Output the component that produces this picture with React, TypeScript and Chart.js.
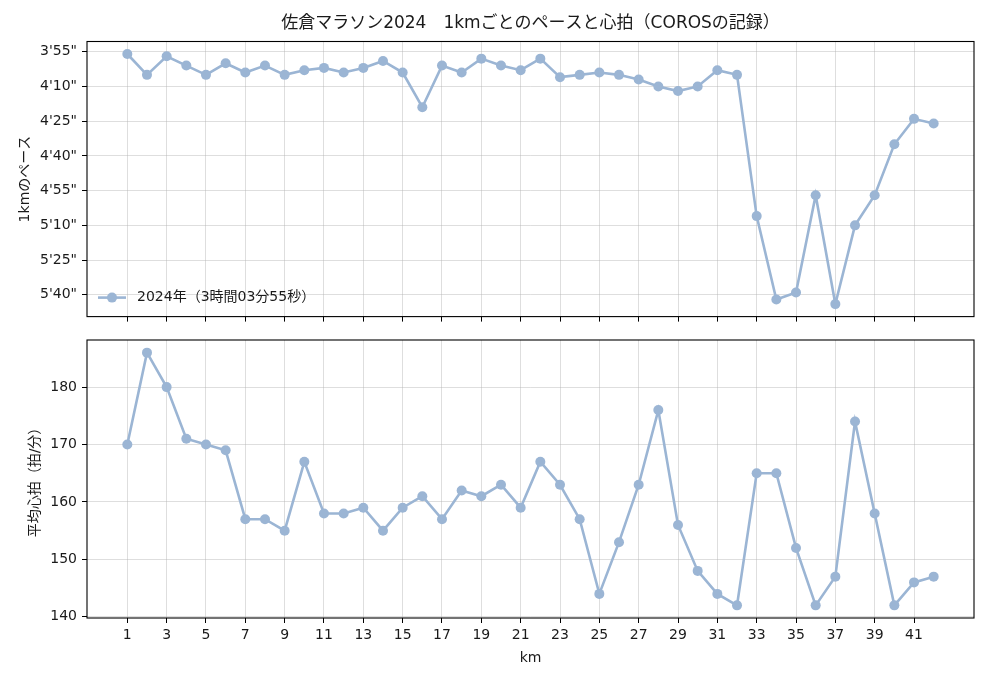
import { useEffect, useRef } from 'react';
import Chart from 'chart.js/auto';

// 1kmごとのデータ（COROSの記録から読み取り）
const kms = [
  1, 2, 3, 4, 5, 6, 7, 8, 9, 10, 11, 12, 13, 14, 15, 16, 17, 18, 19, 20, 21,
  22, 23, 24, 25, 26, 27, 28, 29, 30, 31, 32, 33, 34, 35, 36, 37, 38, 39, 40, 41, 42,
];
// ペース（秒/km）
const paceSec = [
  236, 245, 237, 241, 245, 240, 244, 241, 245, 243, 242, 244, 242, 239, 244, 259, 241, 244, 238, 241, 243,
  238, 246, 245, 244, 245, 247, 250, 252, 250, 243, 245, 306, 342, 339, 297, 344, 310, 297, 275, 264, 266,
];
// 平均心拍（拍/分）
const heartRate = [
  170, 186, 180, 171, 170, 169, 157, 157, 155, 167, 158, 158, 159, 155, 159, 161, 157, 162, 161, 163, 159,
  167, 163, 157, 144, 153, 163, 176, 156, 148, 144, 142, 165, 165, 152, 142, 147, 174, 158, 142, 146, 147,
];
const kmTicks = [1, 3, 5, 7, 9, 11, 13, 15, 17, 19, 21, 23, 25, 27, 29, 31, 33, 35, 37, 39, 41];
const paceTicks = [235, 250, 265, 280, 295, 310, 325, 340];
const hrTicks = [140, 150, 160, 170, 180];

const titleText = '佐倉マラソン2024　1kmごとのペースと心拍（COROSの記録）';
const legendLabel = '2024年（3時間03分55秒）';

const FONT = "'DejaVu Sans', 'Noto Sans CJK JP', sans-serif";
const LINE = '#9bb5d4';
const GRID = 'rgba(176,176,176,0.42)';
const TEXT = '#1a1a1a';

const fmtPace = (s: number) => `${Math.floor(s / 60)}'${String(Math.round(s % 60)).padStart(2, '0')}"`;

const framePlugin = {
  id: 'frame',
  afterDatasetsDraw(chart: any) {
    const { ctx, chartArea: a } = chart;
    ctx.save();
    ctx.strokeStyle = '#000';
    ctx.lineWidth = 1.1;
    ctx.strokeRect(a.left, a.top, a.right - a.left, a.bottom - a.top);
    ctx.restore();
  },
};

const titlePlugin = {
  id: 'figTitle',
  afterDraw(chart: any) {
    const { ctx, chartArea: a } = chart;
    ctx.save();
    ctx.fillStyle = TEXT;
    ctx.font = `17px ${FONT}`;
    ctx.textAlign = 'center';
    ctx.textBaseline = 'middle';
    ctx.fillText(titleText, (a.left + a.right) / 2, 24);
    ctx.restore();
  },
};

const legendPlugin = {
  id: 'innerLegend',
  afterDraw(chart: any) {
    const { ctx, chartArea: a } = chart;
    const y = a.bottom - 19;
    const x0 = a.left + 11;
    ctx.save();
    ctx.strokeStyle = LINE;
    ctx.lineWidth = 2.6;
    ctx.beginPath();
    ctx.moveTo(x0, y);
    ctx.lineTo(x0 + 28, y);
    ctx.stroke();
    ctx.fillStyle = LINE;
    ctx.beginPath();
    ctx.arc(x0 + 14, y, 5, 0, Math.PI * 2);
    ctx.fill();
    ctx.fillStyle = TEXT;
    ctx.font = `14px ${FONT}`;
    ctx.textAlign = 'left';
    ctx.textBaseline = 'middle';
    ctx.fillText(legendLabel, x0 + 39, y);
    ctx.restore();
  },
};

function makeX(showLabels: boolean, height: number) {
  return {
    type: 'linear' as const,
    min: -1.05,
    max: 44.05,
    afterBuildTicks: (s: any) => {
      s.ticks = kmTicks.map((v) => ({ value: v }));
    },
    afterFit: (s: any) => {
      s.height = height;
    },
    grid: { color: GRID, lineWidth: 1, tickColor: '#000', tickLength: 5, tickWidth: 1 },
    border: { display: false },
    ticks: {
      display: showLabels,
      color: TEXT,
      padding: 4,
      maxRotation: 0,
      autoSkip: false,
      font: { size: 14 },
      callback: (v: any) => String(v),
    },
    title: {
      display: showLabels,
      text: 'km',
      color: TEXT,
      font: { size: 14 },
      padding: { top: 0, bottom: 15.6 },
    },
  };
}

function makeY(opts: {
  min: number; max: number; reverse: boolean; ticks: number[];
  fmt: (v: number) => string; title: string; titlePad: number;
}) {
  return {
    type: 'linear' as const,
    min: opts.min,
    max: opts.max,
    reverse: opts.reverse,
    afterBuildTicks: (s: any) => {
      s.ticks = opts.ticks.map((v) => ({ value: v }));
    },
    afterFit: (s: any) => {
      s.width = 87;
    },
    grid: { color: GRID, lineWidth: 1, tickColor: '#000', tickLength: 5, tickWidth: 1 },
    border: { display: false },
    ticks: {
      color: TEXT,
      padding: 5,
      font: { size: 14 },
      callback: (v: any) => opts.fmt(Number(v)),
    },
    title: {
      display: true,
      text: opts.title,
      color: TEXT,
      font: { size: 14 },
      padding: { top: opts.titlePad, bottom: 0 },
    },
  };
}

function dataset(values: number[]) {
  return {
    data: kms.map((k, i) => ({ x: k, y: values[i] })),
    borderColor: LINE,
    backgroundColor: LINE,
    borderWidth: 2.6,
    pointRadius: 5,
    pointBorderWidth: 0,
    pointBackgroundColor: LINE,
    tension: 0,
  };
}

export default function App() {
  const paceRef = useRef<HTMLCanvasElement>(null);
  const hrRef = useRef<HTMLCanvasElement>(null);

  useEffect(() => {
    if (!paceRef.current || !hrRef.current) return;
    Chart.defaults.font.family = FONT;
    Chart.defaults.color = TEXT;

    const paceChart = new Chart(paceRef.current, {
      type: 'line',
      data: { datasets: [dataset(paceSec)] },
      options: {
        responsive: false,
        animation: false,
        devicePixelRatio: 1,
        layout: { padding: { left: 0, right: 16, top: 41.5, bottom: 0 } },
        plugins: { legend: { display: false }, tooltip: { enabled: false } },
        scales: {
          x: makeX(false, 12),
          y: makeY({
            min: 230.6, max: 349.4, reverse: true, ticks: paceTicks,
            fmt: fmtPace, title: '1kmのペース', titlePad: 17,
          }),
        },
      },
      plugins: [framePlugin, titlePlugin, legendPlugin],
    } as any);

    const hrChart = new Chart(hrRef.current, {
      type: 'line',
      data: { datasets: [dataset(heartRate)] },
      options: {
        responsive: false,
        animation: false,
        devicePixelRatio: 1,
        layout: { padding: { left: 0, right: 16, top: 20, bottom: 0 } },
        plugins: { legend: { display: false }, tooltip: { enabled: false } },
        scales: {
          x: makeX(true, 64),
          y: makeY({
            min: 139.8, max: 188.2, reverse: false, ticks: hrTicks,
            fmt: (v) => String(v), title: '平均心拍（拍/分）', titlePad: 26.5,
          }),
        },
      },
      plugins: [framePlugin],
    } as any);

    return () => {
      paceChart.destroy();
      hrChart.destroy();
    };
  }, []);

  // 上下のキャンバスは10px重ねる（上のグラフの目盛り線のため）
  return (
    <div style={{ position: 'absolute', left: 0, top: 0, width: 990, height: 682, background: '#fff' }}>
      <canvas ref={hrRef} width={990} height={362}
        style={{ position: 'absolute', left: 0, top: 320, width: 990, height: 362 }} />
      <canvas ref={paceRef} width={990} height={330}
        style={{ position: 'absolute', left: 0, top: 0, width: 990, height: 330 }} />
    </div>
  );
}
